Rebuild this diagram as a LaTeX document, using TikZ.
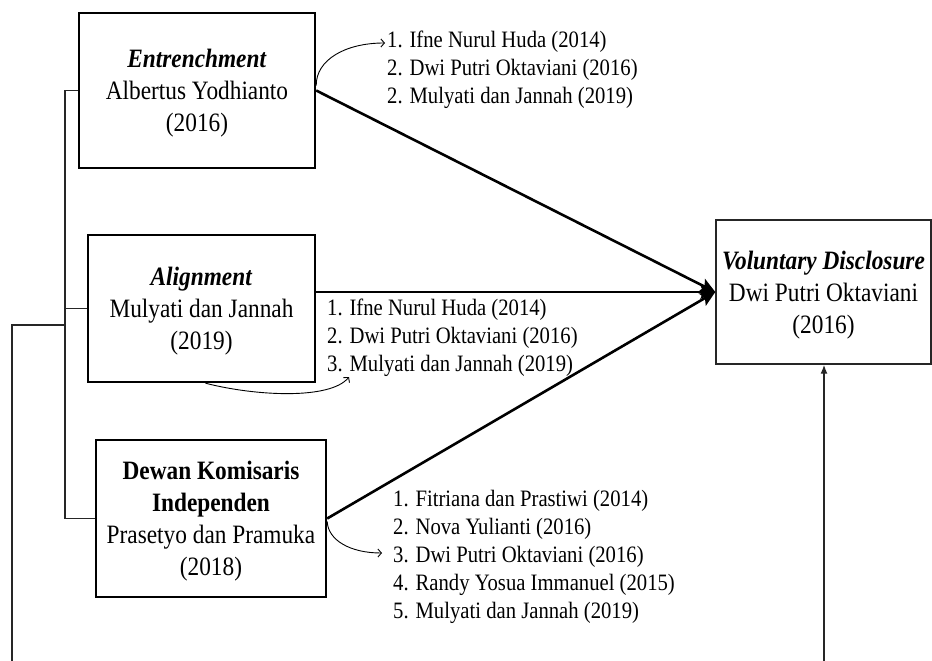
\documentclass[tikz,border=0pt]{standalone}
\usepackage{fontspec}
\setmainfont{Liberation Serif}[FakeStretch=0.88]
\usetikzlibrary{arrows.meta,calc}
\newcommand\topstrut{\rule{0pt}{24pt}}
\begin{document}
\begin{tikzpicture}[x=1pt,y=-1pt,
  box/.style={draw, line width=2.4pt, inner sep=0pt, align=center, font=\fontsize{26.5}{32}\selectfont},
  lst/.style={inner sep=0pt, align=left, anchor=west, font=\fontsize{23.5}{28}\selectfont},
  bigarrow/.style={line width=2.6pt, -{Stealth[length=15pt,width=14pt,inset=3pt]}},
  thinline/.style={line width=1.1pt, black!85},
  curv/.style={line width=0.9pt, -{Straight Barb[length=3.5pt,width=8pt]}}]
\useasboundingbox (0,0) rectangle (932,661);

% boxes
\node[box, minimum width=236pt, minimum height=155pt] (ent) at (197,90.5)
  {\topstrut\textbf{\textit{Entrenchment}}\\Albertus Yodhianto\\(2016)};
\node[box, minimum width=227pt, minimum height=147pt] (al) at (201.5,308.5)
  {\topstrut\textbf{\textit{Alignment}}\\Mulyati dan Jannah\\(2019)};
\node[box, minimum width=230pt, minimum height=157pt] (dk) at (211,518.5)
  {\topstrut\textbf{Dewan Komisaris}\\\textbf{Independen}\\Prasetyo dan Pramuka\\(2018)};
\node[box, line width=1.4pt, draw=black!85, minimum width=215pt, minimum height=144pt] (vd) at (823.5,292)
  {\topstrut\textbf{\textit{Voluntary Disclosure}}\\Dwi Putri Oktaviani\\(2016)};

% lists
\node[lst] (elist) at (387,70)
  {1. Ifne Nurul Huda (2014)\\2. Dwi Putri Oktaviani (2016)\\2. Mulyati dan Jannah (2019)};
\node[lst] (alist) at (327,338)
  {1. Ifne Nurul Huda (2014)\\2. Dwi Putri Oktaviani (2016)\\3. Mulyati dan Jannah (2019)};
\node[lst] (dlist) at (393,557)
  {1. Fitriana dan Prastiwi (2014)\\2. Nova Yulianti (2016)\\3. Dwi Putri Oktaviani (2016)\\4. Randy Yosua Immanuel (2015)\\5. Mulyati dan Jannah (2019)};

% left bracket
\coordinate (bus) at (65,90.5);
\draw[thinline] (ent.west) -- (ent.west -| bus) -- (dk.west -| bus) -- (dk.west);
\draw[thinline] (al.west) -- (al.west -| bus);
\coordinate (ob) at (12,661);
\coordinate (oj) at (65,325);
\draw[thinline, line width=1.4pt] (ob) |- (oj);

% bottom arrow into VD
\coordinate (vb) at (824,661);
\draw[thinline, line width=1.4pt, -{Latex[length=9pt,width=7pt]}] (vb) -- (vb |- vd.south);

% main arrows
\draw[bigarrow] (ent.east) -- (vd.west);
\draw[bigarrow, line width=1.4pt] (al.east |- vd.west) -- (vd.west);
\draw[bigarrow] (dk.east) -- (vd.west);

% small curved arrows
\coordinate (t1) at (385,43);
\coordinate (t2) at (349,377);
\coordinate (t3) at (382,553);
\draw[curv] ([yshift=5pt]ent.east) .. controls (316,60) and (345,43) .. (t1);
\draw[curv] ([xshift=4pt]al.south) .. controls (255,396) and (330,400) .. (t2);
\draw[curv] ([yshift=-3pt]dk.east) .. controls (328,540) and (350,553) .. (t3);
\end{tikzpicture}
\end{document}
